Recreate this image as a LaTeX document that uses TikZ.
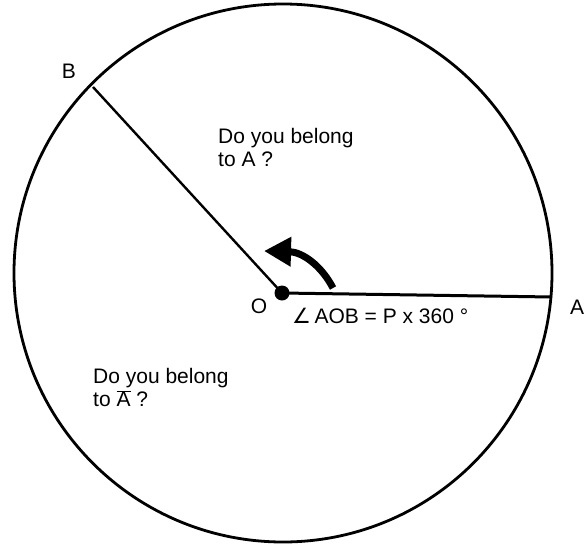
\documentclass[tikz,border=0pt]{standalone}
\usepackage{fontspec}
\setmainfont{Liberation Sans}
\newfontfamily\symfnt{DejaVu Sans}
\usetikzlibrary{arrows.meta}
\tikzset{
  lbl/.style={inner sep=0pt, font=\fontsize{21}{23.5}\selectfont},
  txt/.style={inner sep=0pt, align=left, font=\fontsize{21}{23.5}\selectfont},
  radius line/.style={line width=2.4pt},
  rim/.style={line width=2.8pt},
  dot/.style={circle, fill=black, inner sep=0pt, minimum size=15pt},
  turn/.style={line width=7pt, -{Triangle[length=27pt,width=28pt]}}
}
\begin{document}
\begin{tikzpicture}[x=1pt,y=-1pt]
\useasboundingbox (0,0) rectangle (584,544);
\coordinate (C) at (283,273);
\draw[rim] (C) circle[radius=269];
\node[dot] (O) at (282,293) {};
\coordinate (A) at (552,297);
\coordinate (B) at (93,87);
\draw[radius line, line width=3pt] (O.center) -- (A);
\draw[radius line] (O.center) -- (B);
\node[lbl] (lB) at (69,71) {B};
\node[lbl, anchor=west] (lA) at (570,307) {A};
\node[lbl] (lO) at (259,306) {O};
\node[lbl, anchor=west] (ang) at (292,316) {{\symfnt ∠}\,AOB = P x 360 °};
\node[txt, anchor=north west] (q1) at (218,128) {Do you belong\\to A ?};
\node[txt, anchor=north west] (q2) at (93,368) {Do you belong\\to $\overline{\mbox{A}}$ ?};
\coordinate (t0) at (333,288);
\coordinate (t1) at (264,251);
\draw[turn] (t0) .. controls (321,265) and (302,252) .. (t1);
\end{tikzpicture}
\end{document}
